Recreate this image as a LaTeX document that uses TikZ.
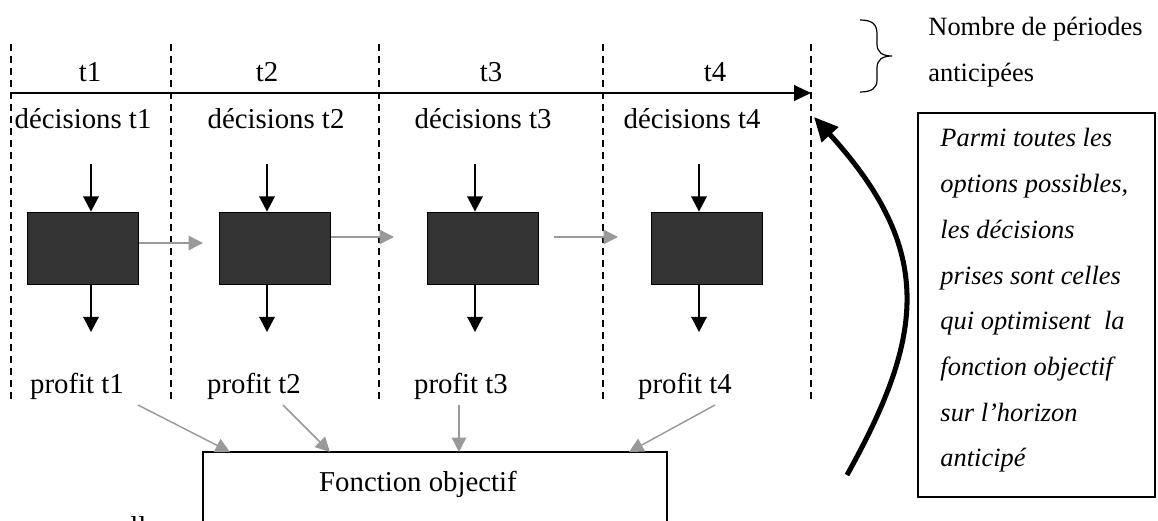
\documentclass[tikz,border=0pt]{standalone}
\usepackage{fontspec}
\setmainfont{Liberation Serif}
\usetikzlibrary{arrows.meta}
\definecolor{boxfill}{HTML}{333333}
\definecolor{flow}{HTML}{999999}
\begin{document}
\begin{tikzpicture}[x=0.4167pt,y=-0.4167pt,
 lbl/.style={font=\fontsize{12}{14}\selectfont, inner sep=0pt, anchor=base},
 small/.style={font=\fontsize{11}{13}\selectfont, inner sep=0pt, anchor=base west},
 note/.style={font=\fontsize{11}{13}\selectfont\itshape, inner sep=0pt, anchor=base west},
 sep/.style={line width=0.6pt, dash pattern=on 3pt off 2pt},
 dec/.style={line width=0.55pt, -{Triangle[length=6.3pt,width=6.5pt]}},
 flowarr/.style={draw=flow, line width=0.6pt, -{Triangle[length=6pt,width=6pt]}, flow},
 blk/.style={draw=black, line width=0.6pt, fill=boxfill, minimum width=46.3pt, minimum height=30.2pt, inner sep=0pt}]
\useasboundingbox (0,0) rectangle (1158,521);

% separators
\foreach \i/\x in {0/11,1/171,2/379,3/603,4/811} {
  \coordinate (st\i) at (\x,44);
  \coordinate (sb\i) at (\x,401);
  \draw[sep] (st\i) -- (sb\i);
}

% timeline
\coordinate (tl0) at (11,93);
\coordinate (tl1) at (811,93);
\draw[line width=0.7pt,-{Triangle[length=7pt,width=6.5pt]}] (tl0) -- (tl1);

% period labels
\node[lbl] (t1) at (90,82) {t1};
\node[lbl] (t2) at (267,82) {t2};
\node[lbl] (t3) at (491,82) {t3};
\node[lbl] (t4) at (715,82) {t4};

% decisions labels
\node[lbl] (d1) at (83,129) {décisions t1};
\node[lbl] (d2) at (276,129) {décisions t2};
\node[lbl] (d3) at (483,129) {décisions t3};
\node[lbl] (d4) at (692,129) {décisions t4};

% black boxes
\node[blk] (b1) at (83,248.5) {};
\node[blk] (b2) at (275,248.5) {};
\node[blk] (b3) at (483,248.5) {};
\node[blk] (b4) at (707,248.5) {};

% input/output arrows
\foreach \i/\x in {1/91,2/267,3/475,4/699} {
  \coordinate (in\i) at (\x,164);
  \coordinate (out\i) at (\x,332);
  \draw[dec] (in\i) -- (in\i |- b\i.north);
  \draw[dec] (b\i.south -| in\i) -- (out\i);
}

% gray transitions
\coordinate (h12) at (203,243);
\coordinate (h23) at (394,237);
\coordinate (h34s) at (554,237);
\coordinate (h34) at (618,237);
\draw[flowarr] (b1.east |- h12) -- (h12);
\draw[flowarr] (b2.east |- h23) -- (h23);
\draw[flowarr] (h34s) -- (h34);

% profit labels
\node[lbl] (p1) at (77,393) {profit t1};
\node[lbl] (p2) at (254,393) {profit t2};
\node[lbl] (p3) at (461,393) {profit t3};
\node[lbl] (p4) at (685,393) {profit t4};

% objective function box
\node[draw, line width=0.6pt, minimum width=193.3pt, minimum height=61.7pt, inner sep=0pt] (fo) at (435,526) {};
\node[lbl] (fot) at (418,491) {Fonction objectif};

\coordinate (pa1) at (138,405); \coordinate (fi1) at (230,452);
\coordinate (pa2) at (283,405); \coordinate (fi2) at (330,452);
\coordinate (pa3) at (459,405); \coordinate (fi3) at (459,452);
\coordinate (pa4) at (715,405); \coordinate (fi4) at (629,452);
\draw[flowarr] (pa1) -- (fi1);
\draw[flowarr] (pa2) -- (fi2);
\draw[flowarr] (pa3) -- (fi3);
\draw[flowarr] (pa4) -- (fi4);

% clipped fragment at bottom
\node[lbl, anchor=base west] (frag) at (130,536) {ll};

% brace and its label
\coordinate (brt) at (860,20);
\coordinate (brb) at (860,92);
\coordinate (brm) at (892,56);
\draw[line width=0.5pt] (brt) .. controls (872,20) and (877,24) .. (877,34) -- (877,44)
   .. controls (877,52) and (882,56) .. (brm)
   .. controls (882,56) and (877,60) .. (877,68) -- (877,80)
   .. controls (877,88) and (872,92) .. (brb);
\node[small] (nb1) at (928,36) {Nombre de périodes};
\node[small] (nb2) at (928,82) {anticipées};

% note box
\node[draw, line width=1pt, minimum width=98.8pt, minimum height=160pt, inner sep=0pt] (nbox) at (1036.5,305) {};
\foreach \k/\t in {0/Parmi toutes les,1/{options possibles,},2/les décisions,3/prises sont celles,4/{qui optimisent\ \ la},5/fonction objectif,6/sur l’horizon,7/anticipé} {
  \node[note] (n\k) at (940,147+45.7*\k) {\t};
}

% curved thick arrow
\coordinate (cs) at (847,475);
\coordinate (ce) at (814,117);
\draw[line width=2.1pt, -{Triangle[length=10pt,width=9pt]}] (cs) .. controls (925,335) and (935,250) .. (ce);

\end{tikzpicture}
\end{document}
